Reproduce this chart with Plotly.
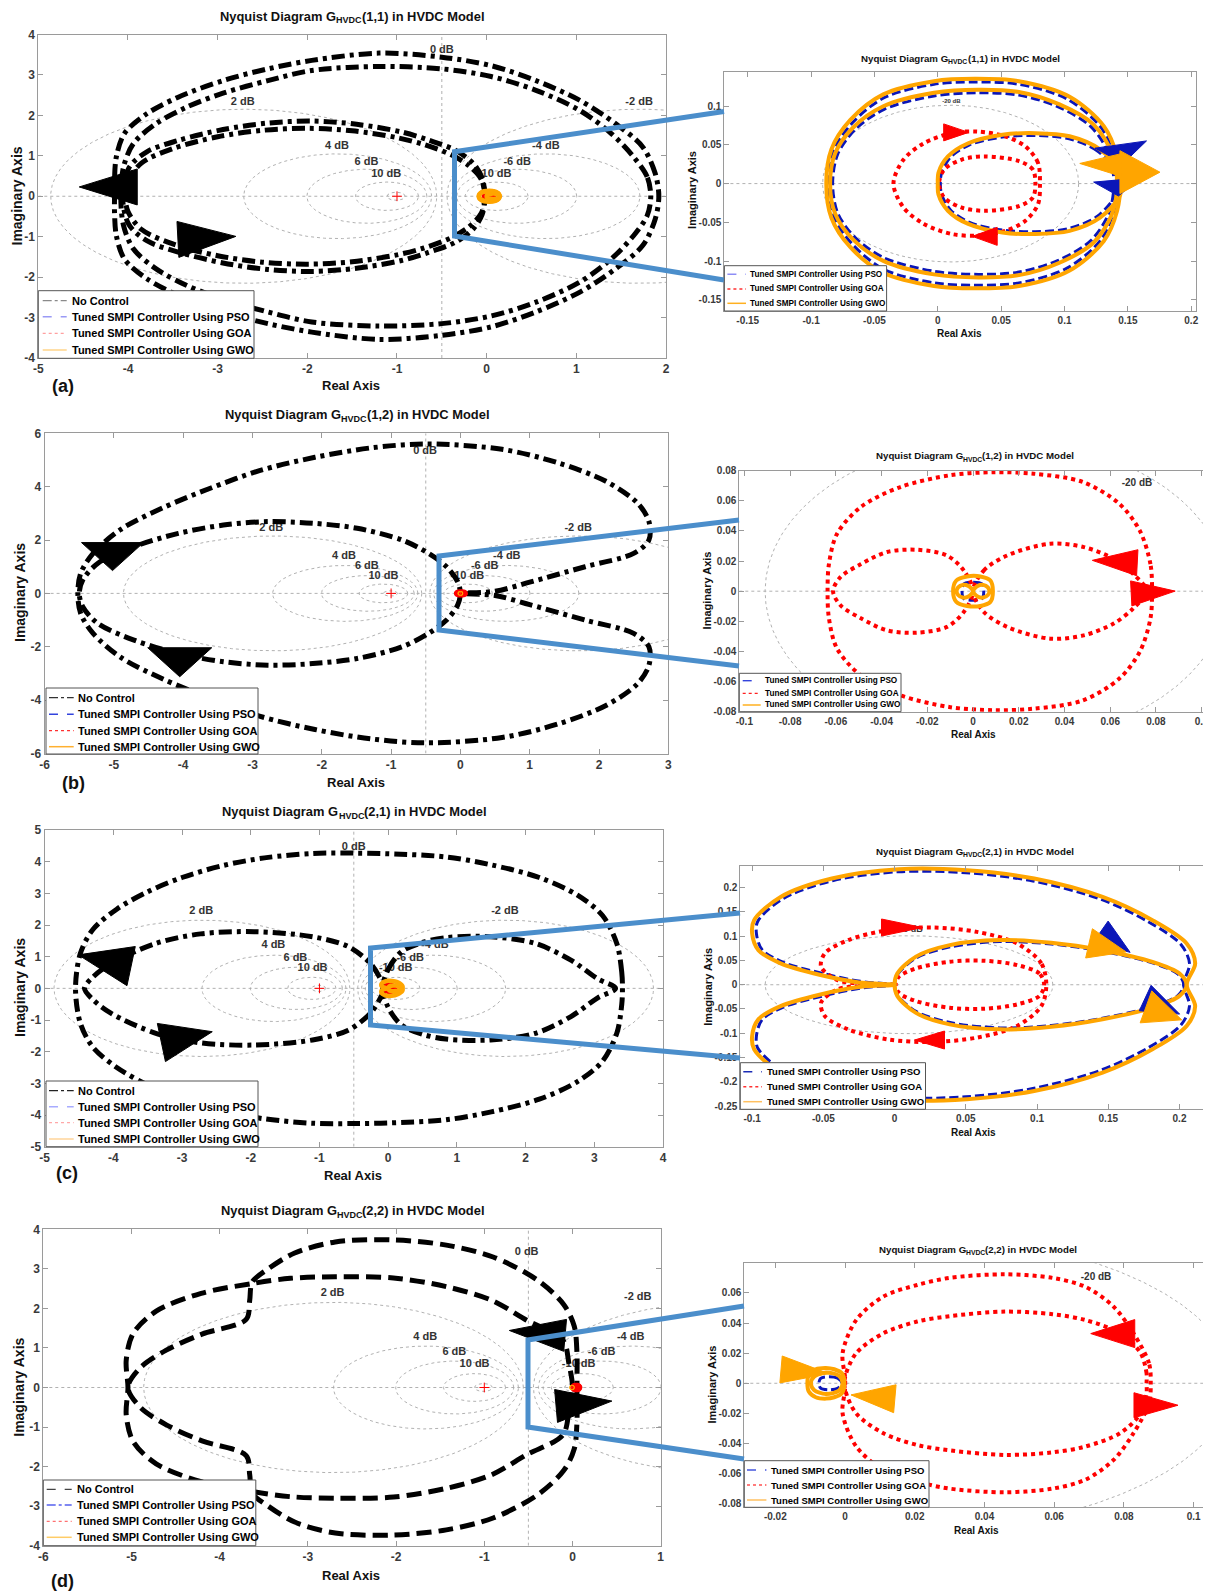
import numpy as np
import plotly.graph_objects as go

# The page body has an 8 px margin: the figure is sized and offset to compensate
OFF = 8
W, H = 1211 - OFF, 1596 - OFF
FONT = "Liberation Sans, Arial, Helvetica, sans-serif"

# ======================= DATA =======================
DB_LEVELS = [-20, -10, -6, -4, -2, 0, 2, 4, 6, 10, 20]
SERIES = ["No Control", "Tuned SMPI Controller Using PSO",
          "Tuned SMPI Controller Using GOA", "Tuned SMPI Controller Using GWO"]
TITLE_IDX = ["(1,1)", "(1,2)", "(2,1)", "(2,2)"]

# ---- (a) no control (upper halves; lower half = complex conjugate)
A_NC_OUT1_X = [1.92, 1.88, 1.74, 1.44, 1.04, 0.55, 0.05, -0.5, -1.2, -1.95, -2.44, -2.94, -3.44, -3.79, -4.04, -4.13, -4.15, -4.15]
A_NC_OUT1_Y = [0.0, 0.56, 1.22, 1.79, 2.37, 2.86, 3.23, 3.44, 3.54, 3.36, 3.15, 2.86, 2.45, 2.04, 1.55, 0.97, 0.40, 0.0]
A_NC_OUT2_X = [1.83, 1.79, 1.64, 1.39, 1.04, 0.55, 0.05, -0.5, -1.2, -1.95, -2.44, -2.94, -3.34, -3.69, -3.94, -4.05, -4.08]
A_NC_OUT2_Y = [0.0, 0.48, 0.97, 1.55, 2.12, 2.62, 2.96, 3.15, 3.21, 3.11, 2.86, 2.55, 2.21, 1.79, 1.30, 0.72, 0.0]
A_NC_IN1_X = [-0.02, -0.05, -0.15, -0.35, -0.65, -0.95, -1.45, -1.95, -2.44, -2.94, -3.44, -3.79, -3.99, -4.06]
A_NC_IN1_Y = [0.0, 0.45, 0.81, 1.14, 1.39, 1.59, 1.78, 1.86, 1.81, 1.65, 1.38, 1.10, 0.70, 0.0]
A_NC_IN2_X = [-0.02, -0.06, -0.2, -0.4, -0.7, -1.0, -1.5, -2.0, -2.5, -3.0, -3.5, -3.85, -4.0, -4.03]
A_NC_IN2_Y = [0.0, 0.42, 0.76, 1.03, 1.28, 1.45, 1.62, 1.68, 1.63, 1.47, 1.18, 0.82, 0.38, 0.0]
# ---- (a) controlled
A_GWO_OUT1_X = [0.144, 0.1415, 0.131, 0.104, 0.064, 0.029, -0.003, -0.043, -0.069, -0.084, -0.088]
A_GWO_OUT1_Y = [0.0, 0.035, 0.074, 0.112, 0.132, 0.135, 0.132, 0.115, 0.082, 0.044, 0.0]
A_GWO_OUT2_X = [0.1415, 0.1375, 0.123, 0.096, 0.064, 0.032, -0.003, -0.043, -0.067, -0.081, -0.085]
A_GWO_OUT2_Y = [0.0, 0.039, 0.076, 0.102, 0.118, 0.121, 0.117, 0.0996, 0.072, 0.039, 0.0]
A_GWO_IN_X = [0.144, 0.128, 0.104, 0.077, 0.051, 0.024, 0.008, 0.0005, 0.0]
A_GWO_IN_Y = [0.014, 0.044, 0.061, 0.065, 0.063, 0.052, 0.035, 0.014, 0.0]
A_PSO_OUT1_X = [0.142, 0.139, 0.129, 0.102, 0.064, 0.029, -0.003, -0.042, -0.067, -0.082, -0.086]
A_PSO_OUT1_Y = [0.0, 0.034, 0.072, 0.109, 0.128, 0.131, 0.128, 0.111, 0.079, 0.043, 0.0]
A_PSO_OUT2_X = [0.139, 0.135, 0.121, 0.095, 0.064, 0.032, -0.003, -0.042, -0.065, -0.079, -0.083]
A_PSO_OUT2_Y = [0.0, 0.038, 0.073, 0.099, 0.114, 0.117, 0.113, 0.096, 0.070, 0.038, 0.0]
A_PSO_IN_X = [0.141, 0.126, 0.103, 0.077, 0.051, 0.025, 0.010, 0.003, 0.002]
A_PSO_IN_Y = [0.012, 0.042, 0.058, 0.062, 0.060, 0.050, 0.034, 0.014, 0.0]
A_GOA_OUT_X = [0.0806, 0.079, 0.069, 0.053, 0.032, 0.011, -0.011, -0.027, -0.035]
A_GOA_OUT_Y = [0.0, 0.027, 0.048, 0.061, 0.067, 0.065, 0.052, 0.031, 0.0]
A_GOA_IN_X = [0.077, 0.075, 0.064, 0.037, 0.019, 0.005, 0.001]
A_GOA_IN_Y = [0.0, 0.018, 0.029, 0.035, 0.031, 0.018, 0.0]

# ---- (b) no control
B_NC_OUT_X = [0.0, 0.5, 1.0, 1.8, 2.5, 2.72, 2.72, 2.55, 2.1, 1.4, 0.6, -0.5, -1.3, -2.1, -2.9, -3.6, -4.3, -4.9, -5.3, -5.48, -5.52]
B_NC_OUT_Y = [0.0, 0.08, 0.42, 1.0, 1.5, 2.0, 2.7, 3.4, 4.2, 4.9, 5.4, 5.6, 5.45, 5.1, 4.6, 3.95, 3.2, 2.4, 1.5, 0.75, 0.0]
B_NC_IN_X = [0.0, -0.04, -0.2, -0.46, -0.84, -1.49, -2.13, -2.78, -3.42, -4.07, -4.71, -5.23, -5.45, -5.5]
B_NC_IN_Y = [0.0, 0.44, 1.0, 1.5, 2.0, 2.44, 2.63, 2.69, 2.56, 2.25, 1.75, 1.13, 0.5, 0.0]
# ---- (b) controlled
B_GOA_OUT_X = [0.0783, 0.0776, 0.073, 0.064, 0.048, 0.0265, 0.009, -0.0099, -0.032, -0.049, -0.0595, -0.063, -0.0636]
B_GOA_OUT_Y = [0.0, 0.018, 0.040, 0.058, 0.0725, 0.078, 0.079, 0.077, 0.069, 0.056, 0.038, 0.018, 0.0]
B_GOA_L_X = [0.0, -0.004, -0.0114, -0.0245, -0.0376, -0.049, -0.058, -0.0612]
B_GOA_L_Y = [0.0, 0.0137, 0.0237, 0.0275, 0.026, 0.018, 0.0093, 0.0]
B_GOA_R_X = [0.0, 0.0047, 0.0149, 0.0338, 0.0484, 0.0615, 0.070, 0.076]
B_GOA_R_Y = [0.0, 0.0137, 0.0237, 0.0315, 0.0293, 0.0215, 0.0115, 0.0]
B_GWO_OUT_X = [0.0087, 0.0076, 0.0032, -0.0026, -0.0073, -0.0087]
B_GWO_OUT_Y = [0.0, 0.0071, 0.0098, 0.0098, 0.0071, 0.0]
B_GWO_L_X = [0.0, -0.002, -0.0045, -0.0065, -0.0072]
B_GWO_L_Y = [0.0, 0.0035, 0.0042, 0.0025, 0.0]
B_GWO_R_X = [0.0, 0.002, 0.0045, 0.0065, 0.0072]
B_GWO_R_Y = [0.0, 0.0035, 0.0042, 0.0025, 0.0]
B_PSO_X = [0.0047, 0.0039, 0.0, -0.004, -0.0048]
B_PSO_Y = [0.0, 0.0049, 0.006, 0.0049, 0.0]

# ---- (c) no control
C_NC_OUT_X = [3.41, 3.40, 3.33, 3.12, 2.75, 2.2, 1.5, 0.84, 0.0, -0.5, -1.1, -1.8, -2.4, -3.0, -3.5, -3.95, -4.3, -4.48, -4.55]
C_NC_OUT_Y = [0.0, 0.5, 1.4, 2.3, 2.95, 3.5, 3.9, 4.15, 4.25, 4.27, 4.26, 4.12, 3.88, 3.5, 3.05, 2.5, 1.85, 1.1, 0.0]
C_NC_L_X = [-0.06, -0.13, -0.26, -0.58, -1.1, -1.95, -2.73, -3.38, -4.03, -4.3, -4.42]
C_NC_L_Y = [0.0, 0.37, 0.79, 1.32, 1.63, 1.79, 1.72, 1.42, 0.79, 0.35, 0.0]
C_NC_R_X = [-0.08, 0.0, 0.19, 0.5, 0.84, 1.49, 2.14, 2.66, 3.05, 3.31]
C_NC_R_Y = [0.0, 0.6, 1.15, 1.45, 1.6, 1.63, 1.42, 0.89, 0.3, 0.0]
# ---- (c) controlled
C_GWO_OUT_X = [0.205, 0.211, 0.205, 0.181, 0.146, 0.098, 0.0506, 0.003, -0.044, -0.080, -0.0986, -0.100, -0.0956, -0.080, -0.052, -0.025, 0.0]
C_GWO_OUT_Y = [0.0, 0.044, 0.085, 0.133, 0.181, 0.219, 0.236, 0.238, 0.219, 0.181, 0.133, 0.106, 0.0714, 0.044, 0.020, 0.0048, 0.0]
C_GWO_IN_X = [0.0, 0.0019, 0.015, 0.0387, 0.074, 0.110, 0.146, 0.181, 0.200, 0.205]
C_GWO_IN_Y = [0.0, 0.023, 0.058, 0.0817, 0.092, 0.0865, 0.071, 0.047, 0.023, 0.0]
C_PSO_OUT_X = [0.203, 0.207, 0.201, 0.178, 0.144, 0.097, 0.050, 0.003, -0.043, -0.078, -0.096, -0.097, -0.093, -0.078, -0.050, -0.024, 0.0]
C_PSO_OUT_Y = [0.0, 0.044, 0.083, 0.130, 0.177, 0.214, 0.231, 0.233, 0.215, 0.178, 0.131, 0.106, 0.072, 0.046, 0.023, 0.007, 0.0]
C_PSO_IN_X = [0.0, 0.002, 0.015, 0.039, 0.074, 0.110, 0.146, 0.181, 0.199, 0.203]
C_PSO_IN_Y = [0.0, 0.021, 0.055, 0.078, 0.089, 0.084, 0.069, 0.045, 0.022, 0.0]
C_GOA_OUT_X = [0.1065, 0.103, 0.086, 0.0578, 0.0269, -0.004, -0.0326, -0.049, -0.0516, -0.040, -0.0207, 0.0]
C_GOA_OUT_Y = [0.0, 0.044, 0.085, 0.109, 0.118, 0.113, 0.092, 0.0646, 0.037, 0.0096, 0.002, 0.0]
C_GOA_IN_X = [0.105, 0.1017, 0.086, 0.0625, 0.0387, 0.015, 0.003, 0.0007]
C_GOA_IN_Y = [0.0, 0.023, 0.0405, 0.0495, 0.0474, 0.0337, 0.0165, 0.0]

# ---- (d) no control
D_NC_1_X = [0.05, 0.05, 0.02, -0.1, -0.4, -0.9, -1.43, -2.03, -2.69, -3.15, -3.45, -3.63, -3.66, -3.70, -4.2, -4.6, -4.9, -5.04]
D_NC_1_Y = [0.0, 0.9, 1.55, 2.1, 2.72, 3.3, 3.6, 3.73, 3.68, 3.4, 3.0, 2.67, 2.2, 1.72, 1.35, 0.95, 0.5, 0.0]
D_NC_2_X = [0.0, -0.04, -0.11, -0.52, -0.92, -1.43, -2.03, -2.69, -3.2, -3.63, -4.21, -4.72, -4.98, -5.06, -5.04]
D_NC_2_Y = [0.0, 0.6, 1.2, 1.7, 2.21, 2.55, 2.77, 2.8, 2.76, 2.63, 2.38, 1.93, 1.37, 0.69, 0.0]
# ---- (d) controlled
D_GOA_OUT_X = [0.0877, 0.0872, 0.0828, 0.077, 0.069, 0.0595, 0.046, 0.030, 0.0207, 0.011, 0.0032, -0.0007, 0.0]
D_GOA_OUT_Y = [0.0, 0.0133, 0.033, 0.051, 0.064, 0.070, 0.0724, 0.070, 0.0653, 0.0576, 0.042, 0.020, 0.004]
D_GOA_IN_X = [0.0865, 0.0865, 0.0848, 0.079, 0.069, 0.0595, 0.046, 0.0304, 0.0207, 0.011, 0.0032, 0.0]
D_GOA_IN_Y = [0.0, 0.0066, 0.020, 0.033, 0.042, 0.0459, 0.0476, 0.0447, 0.041, 0.0332, 0.020, 0.004]
D_GWO_OUT_X = [-0.0002, -0.0009, -0.0031, -0.0055, -0.0084, -0.0104, -0.0108]
D_GWO_OUT_Y = [0.0, 0.0066, 0.0093, 0.0102, 0.0093, 0.0055, 0.0]
D_GWO_IN_X = [-0.0007, -0.0017, -0.0055, -0.0089, -0.0098]
D_GWO_IN_Y = [0.0, 0.0049, 0.0071, 0.0044, 0.0]
D_PSO_X = [-0.0009, -0.0021, -0.0046, -0.0070, -0.0075]
D_PSO_Y = [0.0, 0.0033, 0.0044, 0.0033, 0.0]

# ---- direction arrows: position, direction (deg), length/width in px
A_ARR_NC = dict(x=[-4.22, -3.12], y=[0.23, -1.03], ang=[180, 3], L=[58, 58], W=[36, 36])
A_ARR_PSO = dict(x=[0.1454, 0.142], y=[0.0382, -0.0057], ang=[-82, -85], L=[19, 16], W=[52, 47])
A_ARR_GOA = dict(x=[0.0145, 0.037], y=[0.066, -0.068], ang=[0, 180], L=[25, 25], W=[17, 18])
A_ARR_GWO = dict(x=[0.1595, 0.1286], y=[0.0147, 0.025], ang=[0, 178], L=[40, 42], W=[43, 23])
B_ARR_NC = dict(x=[-5.02, -4.05], y=[1.38, -2.58], ang=[-90, -90], L=[28, 29], W=[62, 64])
B_ARR_GOA = dict(x=[0.062, 0.0788], y=[0.0197, -0.0007], ang=[177, 3], L=[45, 44], W=[26, 25])
C_ARR_NC = dict(x=[-4.125, -2.93], y=[0.88, -1.54], ang=[168, 12], L=[54, 52], W=[40, 39])
C_ARR_PSO = dict(x=[0.155, 0.188], y=[0.088, -0.044], ang=[-35, -25], L=[36, 38], W=[26, 28])
C_ARR_GOA = dict(x=[0.0052, 0.0245], y=[0.118, -0.114], ang=[0, 180], L=[41, 30], W=[17, 18])
C_ARR_GWO = dict(x=[0.1495, 0.189], y=[0.0765, -0.059], ang=[-13, -20], L=[38, 38], W=[30, 34])
D_ARR_NC = dict(x=[-0.40, 0.13], y=[1.38, -0.405], ang=[175, 5], L=[56, 56], W=[32, 33])
D_ARR_GOA = dict(x=[0.0768, 0.0892], y=[0.033, -0.0146], ang=[180, 0], L=[44, 44], W=[28, 25])
D_ARR_GWO = dict(x=[-0.0115, 0.008], y=[0.0078, -0.009], ang=[-5, 175], L=[48, 44], W=[27, 28])

# ---- grid labels
MAIN_LBL_TXT = ["0 dB", "2 dB", "-2 dB", "4 dB", "6 dB", "10 dB", "-4 dB", "-6 dB", "-10 dB"]
A_LBL_X = [-0.5, -2.72, 1.70, -1.67, -1.34, -1.12, 0.66, 0.34, 0.09]
A_LBL_Y = [3.62, 2.33, 2.33, 1.24, 0.85, 0.54, 1.24, 0.85, 0.54]
B_LBL_X = [-0.51, -2.73, 1.70, -1.68, -1.35, -1.11, 0.67, 0.35, 0.10]
B_LBL_Y = [5.31, 2.46, 2.46, 1.375, 1.0, 0.66, 1.375, 1.0, 0.66]
C_LBL_X = [-0.5, -2.72, 1.70, -1.67, -1.35, -1.10, 0.68, 0.32, 0.11]
C_LBL_Y = [4.45, 2.42, 2.42, 1.35, 0.95, 0.63, 1.35, 0.95, 0.63]
D_LBL_X = [-0.52, -2.72, 0.74, -1.67, -1.34, -1.11, 0.66, 0.33, 0.07]
D_LBL_Y = [3.43, 2.38, 2.28, 1.28, 0.90, 0.58, 1.28, 0.90, 0.58]
INSET_LBL_TXT = ["-20 dB"]
AI_LBL_X, AI_LBL_Y = [0.0107], [0.106]
BI_LBL_X, BI_LBL_Y = [0.0717], [0.0718]
CI_LBL_X, CI_LBL_Y = [0.0102], [0.114]
DI_LBL_X, DI_LBL_Y = [0.072], [0.0704]

# ---- ticks
A_XT = [-5, -4, -3, -2, -1, 0, 1, 2]; A_YT = [-4, -3, -2, -1, 0, 1, 2, 3, 4]
B_XT = [-6, -5, -4, -3, -2, -1, 0, 1, 2, 3]; B_YT = [-6, -4, -2, 0, 2, 4, 6]
C_XT = [-5, -4, -3, -2, -1, 0, 1, 2, 3, 4]; C_YT = [-5, -4, -3, -2, -1, 0, 1, 2, 3, 4, 5]
D_XT = [-6, -5, -4, -3, -2, -1, 0, 1]; D_YT = [-4, -3, -2, -1, 0, 1, 2, 3, 4]
AI_XT = [-0.15, -0.1, -0.05, 0, 0.05, 0.1, 0.15, 0.2]; AI_YT = [-0.15, -0.1, -0.05, 0, 0.05, 0.1]
BI_XT = [-0.1, -0.08, -0.06, -0.04, -0.02, 0, 0.02, 0.04, 0.06, 0.08, 0.1]
BI_YT = [-0.08, -0.06, -0.04, -0.02, 0, 0.02, 0.04, 0.06, 0.08]
CI_XT = [-0.1, -0.05, 0, 0.05, 0.1, 0.15, 0.2]
CI_YT = [-0.25, -0.2, -0.15, -0.1, -0.05, 0, 0.05, 0.1, 0.15, 0.2]
DI_XT = [-0.02, 0, 0.02, 0.04, 0.06, 0.08, 0.1]
DI_YT = [-0.08, -0.06, -0.04, -0.02, 0, 0.02, 0.04, 0.06]

# ======================= HELPERS =======================
# Arial/Liberation Sans Bold advance widths (1/1000 em) for title layout
BOLD_W = {"N": 722, "y": 556, "q": 611, "u": 611, "i": 278, "s": 556, "t": 333, " ": 278, "D": 722,
          "a": 556, "g": 611, "r": 389, "m": 889, "G": 778, "(": 333, ")": 333, "1": 556, "2": 556,
          ",": 278, "n": 611, "H": 722, "V": 667, "C": 722, "M": 833, "o": 611, "d": 611, "e": 556, "l": 278}


def text_w(s, fs):
    return sum(BOLD_W.get(c, 556) for c in s) / 1000.0 * fs


def tick_text(vals):
    return [("%g" % v) for v in vals]


def loops_xy(loops):
    X, Y = [], []
    for xs, ys in loops:
        ux, uy = list(xs), list(ys)
        lx, ly = ux[::-1], [-v for v in uy[::-1]]
        if uy[-1] == 0:
            lx, ly = lx[1:], ly[1:]
        X += ux + lx
        Y += uy + ly
        if uy[0] != 0:
            X.append(ux[0]); Y.append(uy[0])
        X.append(None); Y.append(None)
    return X, Y


def m_grid(xr, yr):
    th = np.linspace(0, 2 * np.pi, 721)
    X, Y = [], []
    for db in DB_LEVELS:
        if db == 0:
            X += [-0.5, -0.5, None]; Y += [yr[0], yr[1], None]
            continue
        M = 10 ** (db / 20.0)
        c = -M ** 2 / (M ** 2 - 1)
        r = abs(M / (M ** 2 - 1))
        X += list(c + r * np.cos(th)) + [None]
        Y += list(r * np.sin(th)) + [None]
    X += [xr[0], xr[1], None]; Y += [0, 0, None]
    return X, Y


def tri_path(ang, L, Wd):
    a = np.radians(ang)
    ux, uy = np.cos(a), np.sin(a)
    px, py = -uy, ux
    pts = [(ux * L / 2, uy * L / 2),
           (-ux * L / 2 + px * Wd / 2, -uy * L / 2 + py * Wd / 2),
           (-ux * L / 2 - px * Wd / 2, -uy * L / 2 - py * Wd / 2)]
    return "M %.2f,%.2f L %.2f,%.2f L %.2f,%.2f Z" % (pts[0] + pts[1] + pts[2])


def px_x(v): return (v - OFF) / W
def px_y(v): return 1 - (v - OFF) / H


# ======================= STYLES / LAYOUT =======================
BLACK, BLUE, RED, ORANGE = "#000000", "#0b16b8", "#ff0000", "#ffa500"
NC_DASHDOT = "13px,5px,4px,5px"
NC_DASH = "15px,7px"
CONN = "#4b8ecb"

PANELS = [
    dict(i=1, box=(38.3, 666, 34.5, 358), xr=(-5, 2), yr=(-4, 4), xt=A_XT, yt=A_YT, main=True,
         nc=[(A_NC_OUT1_X, A_NC_OUT1_Y), (A_NC_OUT2_X, A_NC_OUT2_Y), (A_NC_IN1_X, A_NC_IN1_Y), (A_NC_IN2_X, A_NC_IN2_Y)],
         ncdash=NC_DASHDOT,
         pso=[(A_PSO_OUT1_X, A_PSO_OUT1_Y), (A_PSO_OUT2_X, A_PSO_OUT2_Y), (A_PSO_IN_X, A_PSO_IN_Y)],
         goa=[(A_GOA_OUT_X, A_GOA_OUT_Y), (A_GOA_IN_X, A_GOA_IN_Y)],
         gwo=[(A_GWO_OUT1_X, A_GWO_OUT1_Y), (A_GWO_OUT2_X, A_GWO_OUT2_Y), (A_GWO_IN_X, A_GWO_IN_Y)],
         lbl=(MAIN_LBL_TXT, A_LBL_X, A_LBL_Y), lfs=11,
         arrows=[(A_ARR_NC, BLACK)]),
    dict(i=2, box=(724.4, 1196.2, 71.7, 311), xr=(-0.1684, 0.2039), yr=(-0.1642, 0.1442), xt=AI_XT, yt=AI_YT, main=False,
         pso=[(A_PSO_OUT1_X, A_PSO_OUT1_Y), (A_PSO_OUT2_X, A_PSO_OUT2_Y), (A_PSO_IN_X, A_PSO_IN_Y)],
         goa=[(A_GOA_OUT_X, A_GOA_OUT_Y), (A_GOA_IN_X, A_GOA_IN_Y)],
         gwo=[(A_GWO_OUT1_X, A_GWO_OUT1_Y), (A_GWO_OUT2_X, A_GWO_OUT2_Y), (A_GWO_IN_X, A_GWO_IN_Y)],
         lbl=(INSET_LBL_TXT, AI_LBL_X, AI_LBL_Y), lfs=6,
         arrows=[(A_ARR_PSO, BLUE), (A_ARR_GOA, RED), (A_ARR_GWO, ORANGE)]),
    dict(i=3, box=(44.6, 668.3, 433.3, 753.5), xr=(-6, 3), yr=(-6, 6), xt=B_XT, yt=B_YT, main=True,
         nc=[(B_NC_OUT_X, B_NC_OUT_Y), (B_NC_IN_X, B_NC_IN_Y)], ncdash=NC_DASHDOT,
         pso=[(B_PSO_X, B_PSO_Y)],
         goa=[(B_GOA_OUT_X, B_GOA_OUT_Y), (B_GOA_L_X, B_GOA_L_Y), (B_GOA_R_X, B_GOA_R_Y)],
         gwo=[(B_GWO_OUT_X, B_GWO_OUT_Y), (B_GWO_L_X, B_GWO_L_Y), (B_GWO_R_X, B_GWO_R_Y)],
         lbl=(MAIN_LBL_TXT, B_LBL_X, B_LBL_Y), lfs=11,
         arrows=[(B_ARR_NC, BLACK)]),
    dict(i=4, box=(739.3, 1209, 470.7, 711.7), xr=(-0.1022, 0.1032), yr=(-0.08, 0.08), xt=BI_XT, yt=BI_YT, main=False,
         pso=[(B_PSO_X, B_PSO_Y)],
         goa=[(B_GOA_OUT_X, B_GOA_OUT_Y), (B_GOA_L_X, B_GOA_L_Y), (B_GOA_R_X, B_GOA_R_Y)],
         gwo=[(B_GWO_OUT_X, B_GWO_OUT_Y), (B_GWO_L_X, B_GWO_L_Y), (B_GWO_R_X, B_GWO_R_Y)],
         lbl=(INSET_LBL_TXT, BI_LBL_X, BI_LBL_Y), lfs=10,
         arrows=[(B_ARR_GOA, RED)]),
    dict(i=5, box=(44.6, 663, 830, 1146.7), xr=(-5, 4), yr=(-5, 5), xt=C_XT, yt=C_YT, main=True,
         nc=[(C_NC_OUT_X, C_NC_OUT_Y), (C_NC_L_X, C_NC_L_Y), (C_NC_R_X, C_NC_R_Y)], ncdash=NC_DASHDOT,
         pso=[(C_PSO_OUT_X, C_PSO_OUT_Y), (C_PSO_IN_X, C_PSO_IN_Y)],
         goa=[(C_GOA_OUT_X, C_GOA_OUT_Y), (C_GOA_IN_X, C_GOA_IN_Y)],
         gwo=[(C_GWO_OUT_X, C_GWO_OUT_Y), (C_GWO_IN_X, C_GWO_IN_Y)],
         lbl=(MAIN_LBL_TXT, C_LBL_X, C_LBL_Y), lfs=11,
         arrows=[(C_ARR_NC, BLACK)]),
    dict(i=6, box=(740.3, 1208, 865.7, 1109.3), xr=(-0.1083, 0.2200), yr=(-0.2568, 0.2454), xt=CI_XT, yt=CI_YT, main=False,
         pso=[(C_PSO_OUT_X, C_PSO_OUT_Y), (C_PSO_IN_X, C_PSO_IN_Y)],
         goa=[(C_GOA_OUT_X, C_GOA_OUT_Y), (C_GOA_IN_X, C_GOA_IN_Y)],
         gwo=[(C_GWO_OUT_X, C_GWO_OUT_Y), (C_GWO_IN_X, C_GWO_IN_Y)],
         lbl=(INSET_LBL_TXT, CI_LBL_X, CI_LBL_Y), lfs=9,
         arrows=[(C_ARR_PSO, BLUE), (C_ARR_GOA, RED), (C_ARR_GWO, ORANGE)]),
    dict(i=7, box=(43.3, 660.7, 1229.3, 1545.7), xr=(-6, 1), yr=(-4, 4), xt=D_XT, yt=D_YT, main=True,
         nc=[(D_NC_1_X, D_NC_1_Y), (D_NC_2_X, D_NC_2_Y)], ncdash=NC_DASH,
         pso=[(D_PSO_X, D_PSO_Y)],
         goa=[(D_GOA_OUT_X, D_GOA_OUT_Y), (D_GOA_IN_X, D_GOA_IN_Y)],
         gwo=[(D_GWO_OUT_X, D_GWO_OUT_Y), (D_GWO_IN_X, D_GWO_IN_Y)],
         lbl=(MAIN_LBL_TXT, D_LBL_X, D_LBL_Y), lfs=11,
         arrows=[(D_ARR_NC, BLACK)]),
    dict(i=8, box=(744.3, 1210, 1263.3, 1507.3), xr=(-0.0289, 0.1047), yr=(-0.0824, 0.0797), xt=DI_XT, yt=DI_YT, main=False,
         pso=[(D_PSO_X, D_PSO_Y)],
         goa=[(D_GOA_OUT_X, D_GOA_OUT_Y), (D_GOA_IN_X, D_GOA_IN_Y)],
         gwo=[(D_GWO_OUT_X, D_GWO_OUT_Y), (D_GWO_IN_X, D_GWO_IN_Y)],
         lbl=(INSET_LBL_TXT, DI_LBL_X, DI_LBL_Y), lfs=10,
         arrows=[(D_ARR_GOA, RED), (D_ARR_GWO, ORANGE)]),
]

fig = go.Figure()
shapes, annotations = [], []
layout = dict(template="none", width=W, height=H, margin=dict(l=0, r=0, t=0, b=0, pad=0, autoexpand=False),
              paper_bgcolor="white", plot_bgcolor="white", showlegend=False,
              font=dict(family=FONT, size=11, color="#222"))

for P in PANELS:
    i = P["i"]
    xa = "x" if i == 1 else "x%d" % i
    ya = "y" if i == 1 else "y%d" % i
    l, r, t, b = P["box"]
    tfs = 12 if P["main"] else 10
    axcommon = dict(showgrid=False, zeroline=False, showline=True, linecolor="#9a9a9a", linewidth=1,
                    mirror="ticks", ticks="inside", ticklen=5, tickcolor="#9a9a9a", automargin=False,
                    tickfont=dict(family=FONT, size=tfs, color="#3a3a3a", weight="bold"))
    layout["xaxis" if i == 1 else "xaxis%d" % i] = dict(
        domain=[px_x(l), px_x(r)], range=list(P["xr"]), anchor=ya,
        tickvals=P["xt"], ticktext=tick_text(P["xt"]), **axcommon)
    layout["yaxis" if i == 1 else "yaxis%d" % i] = dict(
        domain=[px_y(b), px_y(t)], range=list(P["yr"]), anchor=xa,
        tickvals=P["yt"], ticktext=tick_text(P["yt"]), **axcommon)

    gx, gy = m_grid(P["xr"], P["yr"])
    fig.add_trace(go.Scatter(x=gx, y=gy, mode="lines", xaxis=xa, yaxis=ya, hoverinfo="skip",
                             line=dict(color="#a8a8a8", width=0.9, dash="dot")))
    txt, lx, ly = P["lbl"]
    fig.add_trace(go.Scatter(x=lx, y=ly, text=txt, mode="text", xaxis=xa, yaxis=ya, hoverinfo="skip",
                             textposition="middle center",
                             textfont=dict(family=FONT, size=P["lfs"], color="#333333", weight="bold")))
    if P["main"]:
        fig.add_trace(go.Scatter(x=[-1], y=[0], mode="markers", xaxis=xa, yaxis=ya, hoverinfo="skip",
                                 marker=dict(symbol="cross-thin", size=7, line=dict(color="red", width=1))))
        X, Y = loops_xy(P["nc"])
        fig.add_trace(go.Scatter(x=X, y=Y, mode="lines", xaxis=xa, yaxis=ya, hoverinfo="skip",
                                 line=dict(color=BLACK, width=5, dash=P["ncdash"], shape="spline", smoothing=0.9)))
        wp, wg, wo = 3, 4, 4.5
        dp, dg = "solid", "solid"
    else:
        wp, wg, wo = 3, 4, 4
        dp, dg = "9px,4px", "4px,4px"
    X, Y = loops_xy(P["pso"])
    fig.add_trace(go.Scatter(x=X, y=Y, mode="lines", xaxis=xa, yaxis=ya, hoverinfo="skip",
                             line=dict(color=BLUE, width=wp, dash=dp, shape="spline", smoothing=0.9)))
    X, Y = loops_xy(P["goa"])
    fig.add_trace(go.Scatter(x=X, y=Y, mode="lines", xaxis=xa, yaxis=ya, hoverinfo="skip",
                             line=dict(color=RED, width=wg, dash=dg, shape="spline", smoothing=0.9)))
    X, Y = loops_xy(P["gwo"])
    fig.add_trace(go.Scatter(x=X, y=Y, mode="lines", xaxis=xa, yaxis=ya, hoverinfo="skip",
                             line=dict(color=ORANGE, width=wo, shape="spline", smoothing=0.9)))

    for arr, col in P["arrows"]:
        for ax_, ay_, an_, L, Wd in zip(arr["x"], arr["y"], arr["ang"], arr["L"], arr["W"]):
            shapes.append(dict(type="path", xref=xa, yref=ya, xsizemode="pixel", ysizemode="pixel",
                               xanchor=ax_, yanchor=ay_, path=tri_path(an_, L, Wd),
                               fillcolor=col, line=dict(color=col, width=1), layer="above"))

# ---- titles: "Nyquist Diagram G" + subscript "HVDC" + "(i,j) in HVDC Model"
TITLES = [  # (cx, cy, size, index)
    (351, 16, 12.9, 0), (959.4, 58.3, 9.7, 0),
    (356, 415, 12.9, 1), (974, 456, 9.7, 1),
    (353.6, 811.7, 12.9, 2), (974, 851.7, 9.7, 2),
    (351.8, 1210.7, 12.9, 3), (977, 1249.3, 9.7, 3),
]
for cx, cy, fs, k in TITLES:
    p1, p2, p3 = "Nyquist Diagram G", "HVDC", "%s in HVDC Model" % TITLE_IDX[k]
    fs2 = fs * 0.7
    w1, w2, w3 = text_w(p1, fs), text_w(p2, fs2), text_w(p3, fs)
    x0 = cx - (w1 + w2 + w3) / 2.0
    for txt_, xx, ff, dy in [(p1, x0, fs, 0), (p2, x0 + w1, fs2, fs * 0.33), (p3, x0 + w1 + w2, fs, 0)]:
        annotations.append(dict(xref="paper", yref="paper", x=px_x(xx), y=px_y(cy + dy), showarrow=False,
                                xanchor="left", yanchor="middle", text=txt_, borderpad=0,
                                font=dict(family=FONT, size=ff, color="#111", weight="bold")))
REAL_LBL = [(351, 385, 13), (959.4, 333.3, 10), (355.8, 782.7, 13), (973, 734, 10),
            (352.7, 1175, 13), (973.3, 1132.3, 10), (351, 1575, 13), (976.3, 1530, 10)]
for cx, cy, fs in REAL_LBL:
    annotations.append(dict(xref="paper", yref="paper", x=px_x(cx), y=px_y(cy), showarrow=False,
                            xanchor="center", yanchor="middle", text="Real Axis",
                            font=dict(family=FONT, size=fs, color="#111", weight="bold")))
IMAG_LBL = [(16.5, 196, 14), (691.9, 190, 11), (20, 593, 14), (706.7, 590.7, 11),
            (20, 988, 14), (708, 986.7, 11), (18.75, 1387, 14), (711.5, 1385, 11)]
for cx, cy, fs in IMAG_LBL:
    annotations.append(dict(xref="paper", yref="paper", x=px_x(cx), y=px_y(cy), showarrow=False,
                            xanchor="center", yanchor="middle", text="Imaginary Axis", textangle=-90,
                            font=dict(family=FONT, size=fs, color="#111", weight="bold")))
PANEL_TAGS = [("(a)", 62.5, 386), ("(b)", 73.7, 783), ("(c)", 67, 1173), ("(d)", 62.5, 1581)]
for t, cx, cy in PANEL_TAGS:
    annotations.append(dict(xref="paper", yref="paper", x=px_x(cx), y=px_y(cy), showarrow=False,
                            xanchor="center", yanchor="middle", text=t,
                            font=dict(family=FONT, size=18, color="#111", weight="bold")))

# ---- connector polylines from the zoom rectangle to each inset
CONNECTORS = [
    [(724, 111.5), (454.5, 151.7), (454.5, 236), (724, 280)],
    [(739, 520), (439, 556), (439, 630), (739, 666)],
    [(740, 913), (370.5, 948), (370.5, 1025), (740, 1058)],
    [(744, 1306), (528, 1340), (528, 1427), (744, 1459)],
]
for poly in CONNECTORS:
    p = "M " + " L ".join("%.5f,%.5f" % (px_x(a), px_y(c)) for a, c in poly)
    shapes.append(dict(type="path", xref="paper", yref="paper", path=p,
                       line=dict(color=CONN, width=5), layer="above"))

# ---- legends (drawn boxes)
LEGENDS = [
    # box (l,t,r,b), rows y, line x0,x1, text x, font size, entries (label idx, color, dash, width)
    ((38.3, 290.7, 254, 358.3), [300.7, 316.7, 333.3, 350], (42.7, 66.7), 70, 11,
     [(0, "#8a8a8a", "dashdot", 1.3), (1, "#9a9af5", "dash", 1.5), (2, "#ffa0a0", "dot", 1.3), (3, "#ffd48a", "solid", 1.5)]),
    ((724.4, 265.7, 886.6, 311), [274.3, 289, 303.3], (727.4, 746), 747.7, 8.2,
     [(1, "#8d8df5", "dash", 1.4), (2, "#ff3030", "dot", 1.3), (3, "#ffb020", "solid", 1.5)]),
    ((46, 688, 258, 754), [697.7, 714.3, 730.7, 746.7], (49, 73.7), 76, 11,
     [(0, "#333333", "dashdot", 1.3), (1, "#3344dd", "dash", 1.5), (2, "#ff3030", "dot", 1.3), (3, "#ffb030", "solid", 1.5)]),
    ((739.3, 673.3, 901, 711.7), [680.7, 693.3, 705], (742.7, 760.7), 763.3, 8.2,
     [(1, "#3344dd", "dash", 1.4), (2, "#ff2020", "dot", 1.3), (3, "#ffb020", "solid", 1.5)]),
    ((46, 1081, 258, 1146.7), [1090.7, 1106.7, 1122.7, 1139], (49, 73.7), 76, 11,
     [(0, "#222222", "dashdot", 1.3), (1, "#a8acff", "dash", 1.5), (2, "#ffa8a8", "dot", 1.3), (3, "#ffd59a", "solid", 1.5)]),
    ((740.3, 1062.7, 925.5, 1109.3), [1071.7, 1086.7, 1101.7], (743.3, 762), 764.7, 9.5,
     [(1, "#1a2bb5", "dash", 1.5), (2, "#ff3030", "dot", 1.4), (3, "#ffc060", "solid", 1.5)]),
    ((43.3, 1480, 255.8, 1545.7), [1489.3, 1505, 1521.3, 1537.3], (46.7, 71.7), 75, 11,
     [(0, "#444444", "dash", 1.3), (1, "#5560ee", "dashdot", 1.3), (2, "#ff7070", "dot", 1.3), (3, "#ffcc66", "solid", 1.5)]),
    ((744.3, 1460.7, 929, 1507.3), [1470, 1485, 1500], (747, 766.4), 768.7, 9.5,
     [(1, "#4455dd", "dash", 1.4), (2, "#ff5050", "dot", 1.4), (3, "#ffc060", "solid", 1.5)]),
]
for (bl, bt, br, bb), rows, (lx0, lx1), tx, fs, entries in LEGENDS:
    shapes.append(dict(type="rect", xref="paper", yref="paper", x0=px_x(bl), x1=px_x(br),
                       y0=px_y(bb), y1=px_y(bt), fillcolor="white",
                       line=dict(color="#555555", width=1), layer="above"))
    for ry, (k, col, dsh, wd) in zip(rows, entries):
        shapes.append(dict(type="line", xref="paper", yref="paper", x0=px_x(lx0), x1=px_x(lx1),
                           y0=px_y(ry), y1=px_y(ry), line=dict(color=col, width=wd, dash=dsh), layer="above"))
        annotations.append(dict(xref="paper", yref="paper", x=px_x(tx), y=px_y(ry), showarrow=False,
                                xanchor="left", yanchor="middle", text=SERIES[k],
                                font=dict(family=FONT, size=fs, color="#000", weight="bold")))

layout["shapes"] = shapes
layout["annotations"] = annotations
fig.update_layout(**layout)
fig.write_html("out.html")
